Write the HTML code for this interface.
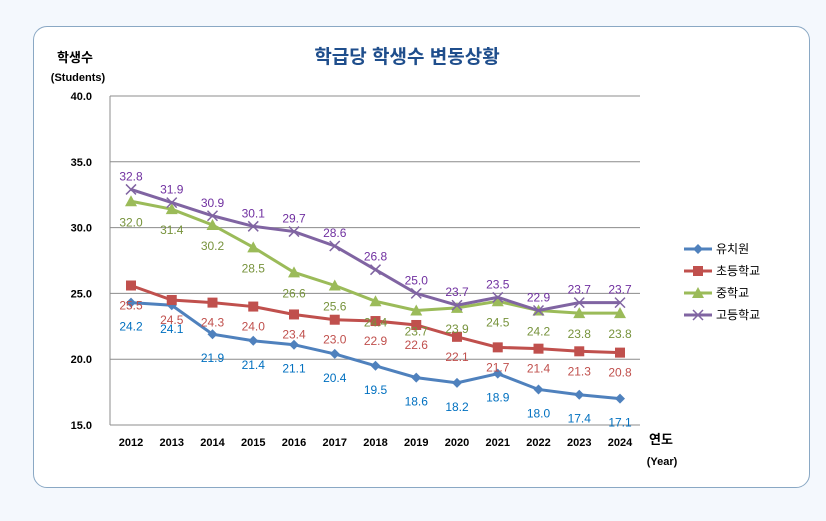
<!DOCTYPE html>
<html><head><meta charset="utf-8"><style>
body{margin:0;width:826px;height:521px;background:#f4f8fd;font-family:"Liberation Sans","Noto Sans CJK KR",sans-serif;overflow:hidden}
#frame{position:absolute;left:33px;top:26px;width:775px;height:460px;border:1px solid #8aa8c4;border-radius:14px;background:#fff}
</style></head><body>
<div id="frame"></div>
<svg id="c" width="826" height="521" style="position:absolute;left:0;top:0"></svg>
<script>
const years=['2012','2013','2014','2015','2016','2017','2018','2019','2020','2021','2022','2023','2024'];
const yTicks=[15,20,25,30,35,40];
const kinder=[24.3,24.1,21.9,21.4,21.1,20.4,19.5,18.6,18.2,18.9,17.7,17.3,17.0];
const kinderLbl=['24.2','24.1','21.9','21.4','21.1','20.4','19.5','18.6','18.2','18.9','18.0','17.4','17.1'];
const elem=[25.6,24.5,24.3,24.0,23.4,23.0,22.9,22.6,21.7,20.9,20.8,20.6,20.5];
const elemLbl=['25.5','24.5','24.3','24.0','23.4','23.0','22.9','22.6','22.1','21.7','21.4','21.3','20.8'];
const middle=[32.0,31.4,30.2,28.5,26.6,25.6,24.4,23.7,23.9,24.4,23.7,23.5,23.5];
const middleLbl=['32.0','31.4','30.2','28.5','26.6','25.6','24.4','23.7','23.9','24.5','24.2','23.8','23.8'];
const high=[32.9,31.9,30.9,30.1,29.7,28.6,26.8,25.0,24.1,24.7,23.7,24.3,24.3];
const highLbl=['32.8','31.9','30.9','30.1','29.7','28.6','26.8','25.0','23.7','23.5','22.9','23.7','23.7'];
const names=['유치원','초등학교','중학교','고등학교'];
const svg=document.getElementById('c');const NS='http://www.w3.org/2000/svg';
function mk(t,a,p){const e=document.createElementNS(NS,t);for(const k in a)e.setAttribute(k,a[k]);(p||svg).appendChild(e);return e;}
const X0=131,X1=620,Y0=425,Y1=96;
const xs=i=>X0+(X1-X0)*i/(years.length-1);
const ys=v=>Y0-(v-15)/(40-15)*(Y0-Y1);
yTicks.forEach(t=>{const l=mk('line',{x1:110,x2:640,y1:ys(t),y2:ys(t),stroke:'#8c8c8c','stroke-width':1});

const tx=mk('text',{x:92,y:ys(t)+4,'text-anchor':'end','font-size':11,'font-weight':'bold',fill:'#000'});tx.textContent=t.toFixed(1);
});
const ax=mk('line',{x1:110,x2:110,y1:Y1,y2:Y0,stroke:'#8c8c8c'});
years.forEach((y,i)=>{const t=mk('text',{x:xs(i),y:446,'text-anchor':'middle','font-size':11,'font-weight':'bold'});t.textContent=y;
});
function txt(s,x,y,a,name){const t=mk('text',Object.assign({x:x,y:y},a));t.textContent=s;return t;}
txt('학급당 학생수 변동상황',407,63,{'text-anchor':'middle','font-size':19,'font-weight':'bold',fill:'#1f4e8c'},'chart-title');
txt('학생수',75,62,{'text-anchor':'middle','font-size':13,'font-weight':'bold'},'y-axis-title');
txt('(Students)',78,81,{'text-anchor':'middle','font-size':11,'font-weight':'bold'},'y-axis-subtitle');
txt('연도',661,444,{'text-anchor':'middle','font-size':13,'font-weight':'bold'},'x-axis-title');
txt('(Year)',662,465,{'text-anchor':'middle','font-size':11,'font-weight':'bold'},'x-axis-subtitle');
const series=[
 {v:kinder,l:kinderLbl,c:'#4f81bd',tc:'#0070c0',m:'diamond',dy:28},
 {v:elem,l:elemLbl,c:'#c0504d',tc:'#c0504d',m:'square',dy:24},
 {v:middle,l:middleLbl,c:'#9bbb59',tc:'#77933c',m:'triangle',dy:25},
 {v:high,l:highLbl,c:'#8064a2',tc:'#7030a0',m:'x',dy:-9}];
function marker(type,x,y,c,g){let e;
 if(type==='diamond')e=mk('polygon',{points:`${x},${y-5} ${x+5},${y} ${x},${y+5} ${x-5},${y}`,fill:c},g);
 else if(type==='square')e=mk('rect',{x:x-5,y:y-5,width:10,height:10,fill:c},g);
 else if(type==='triangle')e=mk('polygon',{points:`${x},${y-6} ${x+6},${y+5} ${x-6},${y+5}`,fill:c},g);
 else e=mk('path',{d:`M${x-5},${y-5}L${x+5},${y+5}M${x+5},${y-5}L${x-5},${y+5}`,stroke:c,'stroke-width':1.5},g);
 return e;}
series.forEach((s,si)=>{const g=mk('g',{});
 const p=mk('polyline',{points:s.v.map((v,i)=>xs(i)+','+ys(v)).join(' '),fill:'none',stroke:s.c,'stroke-width':3},g);
 
 s.v.forEach((v,i)=>{const m=marker(s.m,xs(i),ys(v),s.c,g);
  const t=mk('text',{x:xs(i),y:ys(v)+s.dy,'text-anchor':'middle','font-size':12,fill:s.tc},g);t.textContent=s.l[i];
  });
 const ly=249+si*22;const lg=mk('g',{});
 mk('line',{x1:684,x2:712,y1:ly,y2:ly,stroke:s.c,'stroke-width':3},lg);marker(s.m,698,ly,s.c,lg);
 const lt=mk('text',{x:716,y:ly+4,'font-size':12},lg);lt.textContent=names[si];});
</script></body></html>
